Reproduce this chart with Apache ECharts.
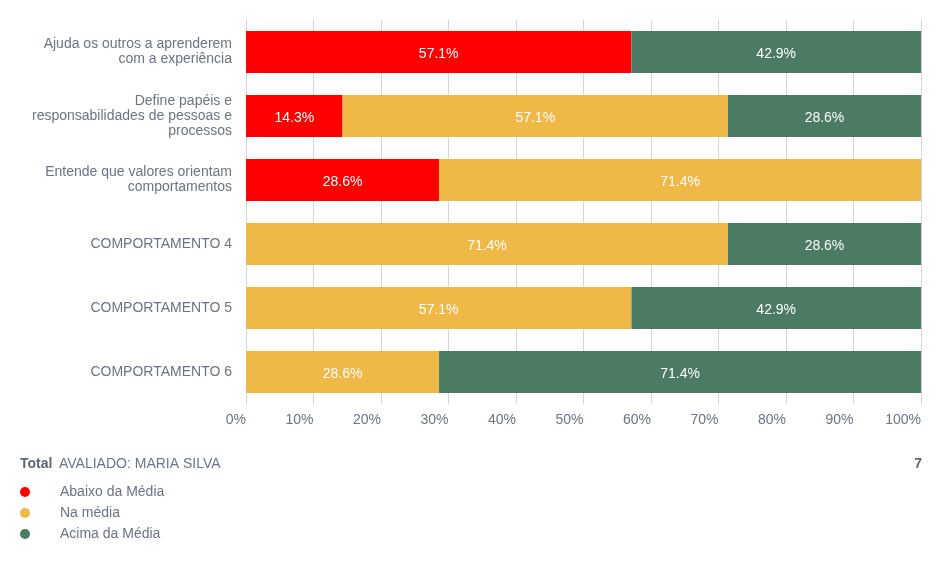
<!DOCTYPE html>
<html><head><meta charset="utf-8">
<script src="https://cdn.jsdelivr.net/npm/echarts@6/dist/echarts.min.js"></script>
<style>html,body{margin:0;padding:0;background:#fff}#c{width:944px;height:561px}</style>
</head><body><div id="c"></div>
<script>
const categories = [
  "Ajuda os outros a aprenderem\ncom a experiência",
  "Define papéis e\nresponsabilidades de pessoas e\nprocessos",
  "Entende que valores orientam\ncomportamentos",
  "COMPORTAMENTO 4",
  "COMPORTAMENTO 5",
  "COMPORTAMENTO 6"
];
const seriesNames = ["Abaixo da Média", "Na média", "Acima da Média"];
const abaixo = [57.1, 14.3, 28.6, 0, 0, 0];
const naMedia = [0, 57.1, 71.4, 71.4, 57.1, 28.6];
const acima = [42.9, 28.6, 0, 28.6, 42.9, 71.4];
const xTicks = [0, 10, 20, 30, 40, 50, 60, 70, 80, 90, 100];
const totalLabel = "Total";
const totalText = "AVALIADO: MARIA SILVA";
const totalValue = "7";

const colors = ["#ff0000", "#f0b847", "#4b7b63"];
const font = "Liberation Sans, Arial, sans-serif";
const txt = "#6b7385";

const chart = echarts.init(document.getElementById('c'), null, {renderer: 'canvas'});
function mk(name, data, i) {
  return {
    name: name, type: 'bar', stack: 't', data: data, barWidth: 42,
    itemStyle: {color: colors[i]},
    label: {show: true, position: 'inside', color: '#fff', fontSize: 14, fontFamily: font, offset: [0, 2],
      formatter: p => p.value > 0 ? p.value.toFixed(1) + '%' : ''}
  };
}
chart.setOption({
  animation: false,
  color: colors,
  grid: {left: 246, right: 23, top: 20, bottom: 157, containLabel: false},
  xAxis: {
    type: 'value', min: xTicks[0], max: xTicks[xTicks.length - 1], interval: 10,
    axisLine: {show: false}, axisTick: {show: false},
    splitLine: {lineStyle: {color: '#d4d4d4'}},
    axisLabel: {formatter: v => v + '%', color: txt, fontSize: 14, fontFamily: font, align: 'right', margin: 9}
  },
  yAxis: {
    type: 'category', data: categories, inverse: true,
    axisLine: {show: false}, axisTick: {show: false},
    axisLabel: {color: txt, fontSize: 14, fontFamily: font, margin: 14, lineHeight: 15, align: 'right', padding: [5, 0, 0, 0]}
  },
  legend: {
    orient: 'vertical', left: 15, top: 480, icon: 'circle', itemWidth: 10, itemHeight: 10, itemGap: 7,
    textStyle: {color: txt, fontSize: 14, fontFamily: font, padding: [0, 0, 0, 25]},
    data: seriesNames
  },
  graphic: [
    {type: 'text', left: 20, top: 457, style: {text: totalLabel, font: 'bold 14px ' + font, fill: '#5f6672'}},
    {type: 'text', left: 59, top: 457, style: {text: totalText, font: '14px ' + font, fill: txt}},
    {type: 'text', right: 22, top: 457, style: {text: totalValue, font: 'bold 14px ' + font, fill: '#5f6672'}}
  ],
  series: [mk(seriesNames[0], abaixo, 0), mk(seriesNames[1], naMedia, 1), mk(seriesNames[2], acima, 2)]
});
</script></body></html>
